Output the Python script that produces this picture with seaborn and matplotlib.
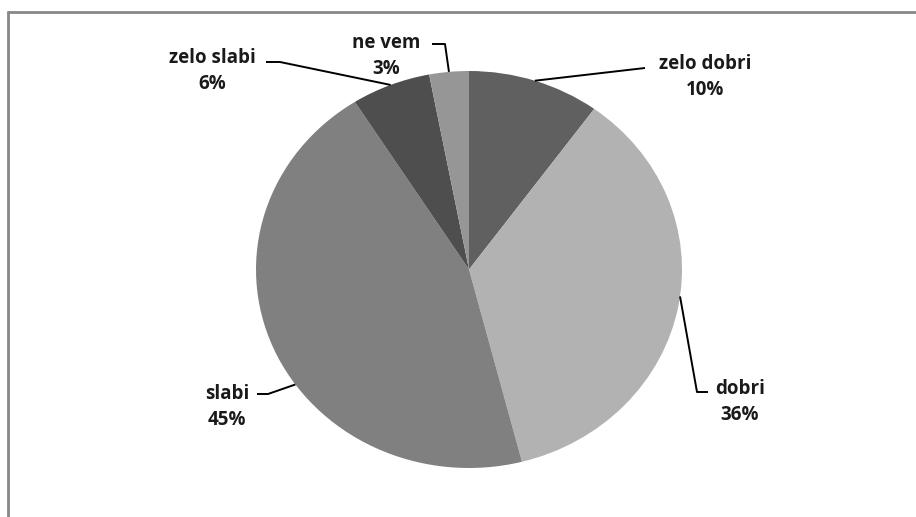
import numpy as np
import matplotlib
matplotlib.use('Agg')
import matplotlib.pyplot as plt
import seaborn as sns
from matplotlib.lines import Line2D

categories = ['zelo dobri', 'dobri', 'slabi', 'zelo slabi', 'ne vem']
shares = [10, 36, 45, 6, 3]
slice_colors = ['#606060', '#b2b2b2', '#808080', '#4e4e4e', '#969696']

sns.set_theme(style='white')
plt.rcParams['font.family'] = ['Open Sans', 'DejaVu Sans']

W, H = 916, 517
fig = plt.figure(figsize=(W / 100, H / 100), dpi=100)

# pie centre and radii in pixels (slightly wider than tall, as in the original)
cx, cy, rx, ry = 469, 269.5, 213, 198.5
ax = fig.add_axes([(cx - rx) / W, (H - cy - ry) / H, 2 * rx / W, 2 * ry / H])
wedges, _ = ax.pie(shares, colors=slice_colors, startangle=90, counterclock=False,
                   radius=1, wedgeprops=dict(linewidth=0))
ax.set_aspect('auto')
ax.set_xlim(-1, 1)
ax.set_ylim(-1, 1)
ax.axis('off')


def px(x, y):
    # pixel position -> data coords of the pie axes
    return (x - cx) / rx, (cy - y) / ry


# label layout: text centre, elbow points of the leader (pixels), anchor angle shift
text_pos = [(705, 77), (740, 402), (227, 407), (212, 71), (386, 56)]
elbows = [[(645, 68)], [(697, 392), (708, 392)], [(268, 394), (257, 394)],
          [(280, 62), (266, 62)], [(445, 44), (432, 44)]]
angle_shift = [0, -3, -12, 0, 0]

cum = np.cumsum([0] + shares)
for i, name in enumerate(categories):
    mid = (cum[i] + cum[i + 1]) / 2 / sum(shares) * 360 + angle_shift[i]
    a = np.deg2rad(mid)
    start = (np.sin(a), np.cos(a))
    pts = [start] + [px(*p) for p in elbows[i]]
    xs, ys = zip(*pts)
    ax.plot(xs, ys, color='black', lw=1.4, clip_on=False, solid_capstyle='butt')
    tx, ty = px(*text_pos[i])
    ax.text(tx, ty, f'{name}\n{shares[i]}%', ha='center', va='center',
            fontsize=13.5, fontweight='bold', color='#1a1a1a', linespacing=1.4)

# chart frame (only top and left edges are visible in the original crop)
fig.add_artist(Line2D([8 / W, 1], [1 - 12 / H, 1 - 12 / H], color='#888888', lw=2))
fig.add_artist(Line2D([8 / W, 8 / W], [0, 1 - 12 / H], color='#888888', lw=2))

fig.savefig('out.png', dpi=100)
